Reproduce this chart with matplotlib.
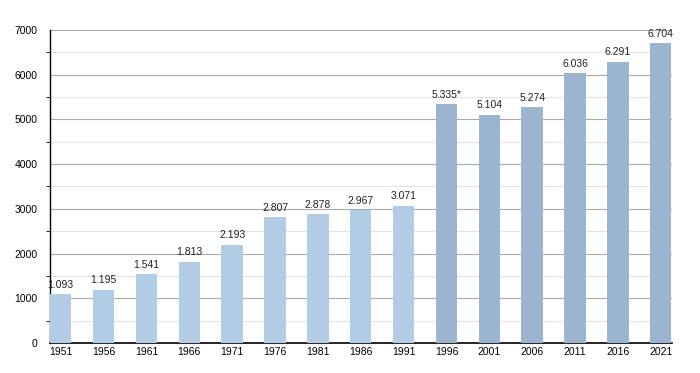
import numpy as np
import matplotlib.pyplot as plt
from matplotlib.ticker import MultipleLocator

plt.rcParams['font.family'] = ['Liberation Sans', 'DejaVu Sans']

years = ['1951', '1956', '1961', '1966', '1971', '1976', '1981', '1986', '1991',
         '1996', '2001', '2006', '2011', '2016', '2021']
population = [1093, 1195, 1541, 1813, 2193, 2807, 2878, 2967, 3071,
              5335, 5104, 5274, 6036, 6291, 6704]
labels = ['1.093', '1.195', '1.541', '1.813', '2.193', '2.807', '2.878', '2.967', '3.071',
          '5.335*', '5.104', '5.274', '6.036', '6.291', '6.704']

light = '#b3cce6'
dark = '#9bb4cf'
colors = [light] * 9 + [dark] * 6

fig = plt.figure(figsize=(7, 3.73), dpi=100)
ax = fig.add_axes([50 / 700, 1 - 343 / 373, 621.5 / 700, 313 / 373])

x = np.arange(len(years))
ax.bar(x, population, width=0.5, color=colors, zorder=3)

# value labels above the bars
for i in range(len(x)):
    ax.text(x[i], population[i] + 100, labels[i], ha='center', va='bottom',
            fontsize=7.5, color='#222222', zorder=4)

ax.set_xlim(-0.25, len(years) - 0.75)
ax.set_ylim(0, 7000)
ax.set_xticks(x)
ax.set_xticklabels(years)
ax.yaxis.set_major_locator(MultipleLocator(1000))
ax.yaxis.set_minor_locator(MultipleLocator(500))
ax.grid(axis='y', which='major', color='#aaaaaa', linewidth=0.8, zorder=0)
ax.grid(axis='y', which='minor', color='#e3e3e3', linewidth=0.8, zorder=0)

for side in ['top', 'right']:
    ax.spines[side].set_visible(False)
ax.spines['left'].set_linewidth(1.0)
ax.spines['bottom'].set_linewidth(1.2)
ax.tick_params(axis='x', length=0, labelsize=7.5, pad=3)
ax.tick_params(axis='y', which='major', length=0, labelsize=7.5, pad=9)
ax.tick_params(axis='y', which='minor', length=3)

fig.savefig('out.png', dpi=100)
